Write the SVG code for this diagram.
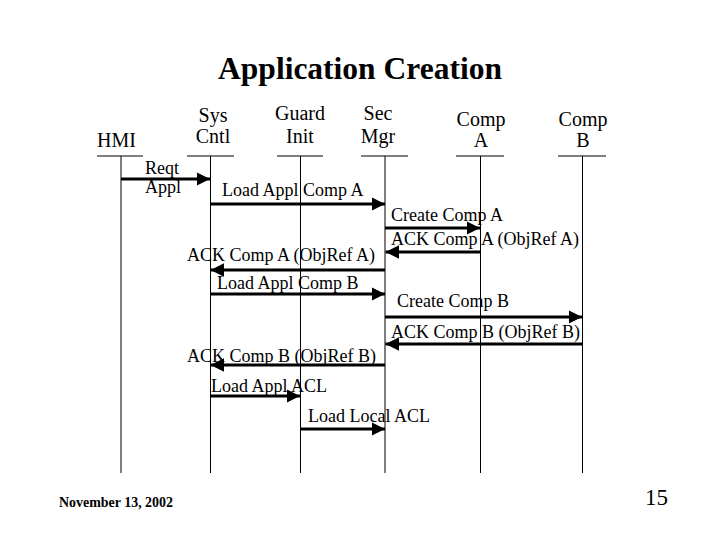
<svg xmlns="http://www.w3.org/2000/svg" width="720" height="540" viewBox="0 0 720 540">
<style>
text{font-family:"Liberation Serif","Times New Roman",serif;fill:#000}
.h{font-size:20px;text-anchor:middle}
.m{font-size:18px}
.life{stroke:#000;stroke-width:1}
.msg{stroke:#000;stroke-width:3;fill:none;marker-end:url(#ah)}
</style>
<defs>
<marker id="ah" viewBox="0 0 10 10" refX="10" refY="5" markerWidth="4.5" markerHeight="4.5" markerUnits="strokeWidth" orient="auto">
<path d="M0,0 L10,5 L0,10 z" fill="#000"/>
</marker>
</defs>
<rect width="720" height="540" fill="#fff"/>
<text x="360" y="79" text-anchor="middle" font-size="31.5" font-weight="bold">Application Creation</text>

<g id="hmi"><text x="97" y="147" font-size="20">HMI</text><line class="life" x1="97" y1="156" x2="143" y2="156"/><line class="life" x1="121" y1="156" x2="121" y2="473"/></g>
<g id="syscntl"><text class="h" x="213" y="122">Sys</text><text class="h" x="213" y="143">Cntl</text><line class="life" x1="187" y1="156" x2="234" y2="156"/><line class="life" x1="210.5" y1="156" x2="210.5" y2="473"/></g>
<g id="guardinit"><text class="h" x="300" y="120">Guard</text><text class="h" x="300" y="143">Init</text><line class="life" x1="277" y1="156" x2="323" y2="156"/><line class="life" x1="300.5" y1="156" x2="300.5" y2="473"/></g>
<g id="secmgr"><text class="h" x="378" y="120">Sec</text><text class="h" x="378" y="143">Mgr</text><line class="life" x1="361" y1="156" x2="408" y2="156"/><line class="life" x1="385" y1="156" x2="385" y2="473"/></g>
<g id="compa"><text class="h" x="481" y="126">Comp</text><text class="h" x="481" y="147">A</text><line class="life" x1="456" y1="156" x2="504" y2="156"/><line class="life" x1="480.5" y1="156" x2="480.5" y2="473"/></g>
<g id="compb"><text class="h" x="583" y="126">Comp</text><text class="h" x="583" y="147">B</text><line class="life" x1="558" y1="156" x2="606" y2="156"/><line class="life" x1="582.5" y1="156" x2="582.5" y2="473"/></g>

<g id="connectors">
<line class="msg" x1="121" y1="179" x2="210" y2="179"/>
<line class="msg" x1="210.5" y1="204" x2="385" y2="204"/>
<line class="msg" x1="385" y1="228" x2="480" y2="228"/>
<line class="msg" x1="480.5" y1="252" x2="385.5" y2="252"/>
<line class="msg" x1="385" y1="270" x2="210.5" y2="270"/>
<line class="msg" x1="210.5" y1="294" x2="385" y2="294"/>
<line class="msg" x1="385" y1="317" x2="582" y2="317"/>
<line class="msg" x1="582.5" y1="344" x2="385.5" y2="344"/>
<line class="msg" x1="385" y1="365" x2="210.5" y2="365"/>
<line class="msg" x1="210.5" y1="396" x2="300" y2="396"/>
<line class="msg" x1="300.5" y1="429" x2="385" y2="429"/>
</g>
<g id="labels">
<text class="m" x="145" y="174">Reqt</text>
<text class="m" x="145" y="193">Appl</text>
<text class="m" x="222" y="196">Load Appl Comp A</text>
<text class="m" x="391" y="221">Create Comp A</text>
<text class="m" x="391" y="245">ACK Comp A (ObjRef A)</text>
<text class="m" x="187" y="261">ACK Comp A (ObjRef A)</text>
<text class="m" x="217" y="289">Load Appl Comp B</text>
<text class="m" x="397" y="307">Create Comp B</text>
<text class="m" x="391" y="338">ACK Comp B (ObjRef B)</text>
<text class="m" x="187" y="362">ACK Comp B (ObjRef B)</text>
<text class="m" x="211" y="392">Load Appl ACL</text>
<text class="m" x="308" y="422">Load Local ACL</text>
</g>
<text x="59" y="507" font-size="15" font-weight="bold" textLength="114" lengthAdjust="spacingAndGlyphs">November 13, 2002</text>
<text x="645" y="505" font-size="23">15</text>
</svg>
